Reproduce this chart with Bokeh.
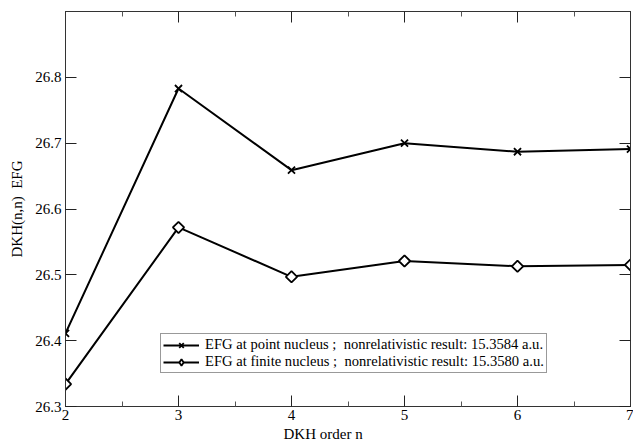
import math
from bokeh.plotting import figure
from bokeh.models import Range1d, LinearAxis, Legend, LegendItem, FixedTicker, Title
from bokeh.embed import file_html
from bokeh.resources import INLINE

order_n = [2, 3, 4, 5, 6, 7]
efg_point = [26.411, 26.783, 26.659, 26.700, 26.687, 26.691]
efg_finite = [26.334, 26.572, 26.497, 26.521, 26.513, 26.515]
x_ticks = [2, 3, 4, 5, 6, 7]
x_minor = [2.5, 3.5, 4.5, 5.5, 6.5]
y_ticks = [26.3, 26.4, 26.5, 26.6, 26.7, 26.8]
label_point = "EFG at point nucleus ;  nonrelativistic result: 15.3584 a.u."
label_finite = "EFG at finite nucleus ;  nonrelativistic result: 15.3580 a.u."
x_title = "DKH order n"
y_title = "DKH(n,n)\u00a0\u00a0EFG"

FONT = "Liberation Serif"

p = figure(width=633, height=442, output_backend="svg", toolbar_location=None,
           x_range=Range1d(2, 7), y_range=Range1d(26.3, 26.9),
           min_border_left=65, min_border_right=3, min_border_top=11, min_border_bottom=0,
           x_axis_location=None, y_axis_location=None)
p.grid.visible = False
p.outline_line_color = "#333333"
p.outline_line_width = 1
p.background_fill_color = "white"
p.border_fill_color = "white"

def style_axis(ax, show_labels=True, ticks=()):
    ax.axis_line_color = "#333333"
    ax.major_tick_in = 11
    ax.major_tick_out = 0
    ax.minor_tick_in = 5
    ax.minor_tick_out = 0
    ax.major_tick_line_color = "#222222"
    ax.minor_tick_line_color = "#555555"
    ax.major_label_text_font = FONT
    ax.major_label_text_font_size = "15px"
    ax.major_label_text_color = "black"
    ax.axis_label_text_font = FONT
    ax.axis_label_text_font_style = "normal"
    ax.axis_label_text_font_size = "15px"
    ax.axis_label_text_color = "black"
    if not show_labels:
        ax.major_label_overrides = {t: "" for t in ticks}
        ax.major_label_standoff = 0

xb = LinearAxis(ticker=FixedTicker(ticks=x_ticks, minor_ticks=x_minor))
style_axis(xb)
xb.major_label_standoff = 3
p.add_layout(xb, "below")

p.add_layout(Title(text=x_title, align="left", offset=218, standoff=2,
                   text_font=FONT, text_font_size="15px", text_font_style="normal",
                   text_color="black"), "below")

yl = LinearAxis(ticker=FixedTicker(ticks=y_ticks), axis_label=y_title)
style_axis(yl)
yl.minor_tick_in = 0
yl.major_label_standoff = 4
yl.axis_label_standoff = 7
p.add_layout(yl, "left")

yr = LinearAxis(ticker=FixedTicker(ticks=y_ticks))
style_axis(yr, show_labels=False, ticks=y_ticks)
yr.minor_tick_in = 0
p.add_layout(yr, "right")

xt = LinearAxis(ticker=FixedTicker(ticks=x_ticks, minor_ticks=x_minor))
style_axis(xt, show_labels=False, ticks=x_ticks)
p.add_layout(xt, "above")

l1 = p.line(order_n, efg_point, line_color="black", line_width=2)
m1 = p.scatter(order_n, efg_point, marker="x", size=10, line_color="black", line_width=1.8)
l2 = p.line(order_n, efg_finite, line_color="black", line_width=2)
m2 = p.scatter(order_n, efg_finite, marker="square", angle=math.pi / 4, size=8,
               line_color="black", fill_color="white", line_width=1.8)
# legend-only diamond (the legend ignores marker angle); its single point is NaN, so never drawn
m2_leg = p.scatter(x=[math.nan], y=[math.nan], marker="diamond", line_color="black",
                   fill_color="white", line_width=1.8)

legend = Legend(items=[LegendItem(label=label_point, renderers=[l1, m1]),
                       LegendItem(label=label_finite, renderers=[l2, m2_leg])],
                location=(95, 33))
legend.label_text_font = FONT
legend.label_text_font_size = "14.6px"
legend.label_text_color = "black"
legend.label_height = 15
legend.glyph_height = 16
legend.glyph_width = 36
legend.label_standoff = 6
legend.spacing = 0
legend.padding = 2
legend.margin = 0
legend.border_line_color = "#333333"
legend.border_line_width = 1
legend.background_fill_alpha = 1
p.add_layout(legend, "center")

open("out.html", "w").write(file_html(p, INLINE))
